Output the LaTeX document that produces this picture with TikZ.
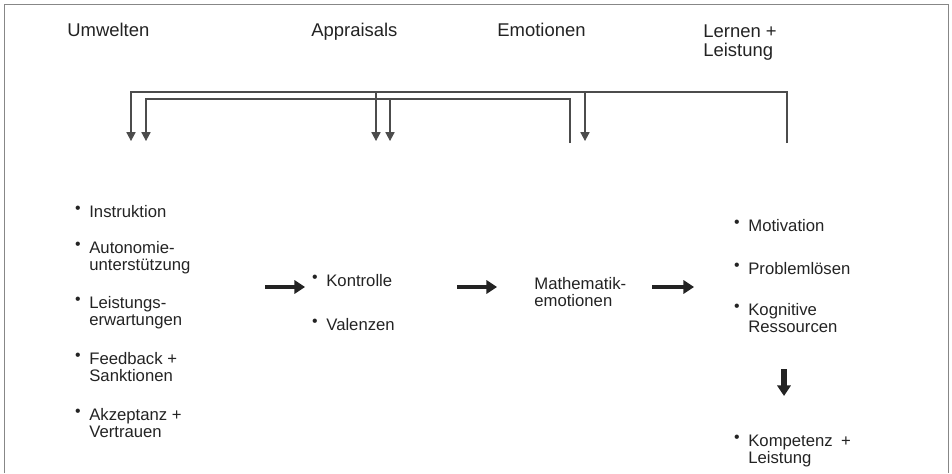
\documentclass[tikz,border=0pt]{standalone}
\usepackage{fontspec}
\setmainfont{Liberation Sans}
\usepackage{graphicx}
\usepackage{tikz}
\usetikzlibrary{arrows.meta,positioning}
\definecolor{inkgray}{RGB}{35,35,35}
\definecolor{framegray}{RGB}{135,135,135}
\newcommand{\bul}{\llap{\raisebox{2.2pt}{\scalebox{0.95}{\textbullet}}\hspace{5pt}}}
\tikzset{
  headtxt/.style={anchor=base west, inner sep=0pt, align=left, font=\fontsize{10.5}{11.3}\selectfont, text=inkgray},
  itemtxt/.style={anchor=base west, inner sep=0pt, align=left, font=\fontsize{9.5}{9.4}\selectfont, text=inkgray},
  flowarrow/.style={-{Triangle[length=6pt,width=7.5pt]}, line width=2.8pt, inkgray},
  fbline/.style={line width=0.6pt, black!70},
  fbarrow/.style={fbline, -{Triangle[length=5pt,width=5.2pt]}},
  framebox/.style={line width=0.5pt, framegray}
}

\begin{document}
\begin{tikzpicture}[x=0.02cm, y=-0.02cm]
\useasboundingbox (0,0) rectangle (952,473);
\draw[framebox] (4,473) -- (4,4) -- (948,4) -- (948,473);

% column heads (base = last line)
\node[headtxt] (umw) at (67,37) {Umwelten};
\node[headtxt] (app) at (311,37) {Appraisals};
\node[headtxt] (emo) at (497,37) {Emotionen};
\node[headtxt] (lrn) at (703,57) {Lernen +\\Leistung};

% Umwelten
\node[itemtxt] (instr) at (89,217) {\bul Instruktion};
\node[itemtxt] (auton) at (89,270) {\bul Autonomie-\\unterstützung};
\node[itemtxt] (lerw) at (89,325) {\bul Leistungs-\\erwartungen};
\node[itemtxt] (feedb) at (89,381) {\bul Feedback +\\Sanktionen};
\node[itemtxt] (akzep) at (89,437) {\bul Akzeptanz +\\Vertrauen};

% Appraisals
\node[itemtxt] (kontr) at (326,286) {\bul Kontrolle};
\node[itemtxt] (valen) at (326,330) {\bul Valenzen};

% Emotionen
\node[itemtxt] (mathe) at (534,306) {Mathematik-\\emotionen};

% Lernen + Leistung
\node[itemtxt] (motiv) at (748,231) {\bul Motivation};
\node[itemtxt] (probl) at (748,274) {\bul Problemlösen};
\node[itemtxt] (kogn) at (748,332) {\bul Kognitive\\Ressourcen};
\node[itemtxt] (komp) at (748,463) {\bul Kompetenz\enspace+\\Leistung};

% feedback loops
\coordinate (lrnfoot) at (787,143);
\coordinate (emofoot) at (570,143);
\coordinate (outer) at (787,92);
\coordinate (inner) at (570,99);
\coordinate (umwin1) at (131,141);
\coordinate (umwin2) at (146,141);
\coordinate (appin1) at (376,141);
\coordinate (appin2) at (390,141);
\coordinate (emoin) at (585,141);
\draw[fbarrow] (lrnfoot) -- (outer) -| (umwin1);
\draw[fbarrow] (appin1 |- outer) -- (appin1);
\draw[fbarrow] (emoin |- outer) -- (emoin);
\draw[fbarrow] (emofoot) -- (inner) -| (umwin2);
\draw[fbarrow] (appin2 |- inner) -- (appin2);

% flow
\coordinate (f1a) at (265,287);
\coordinate (f1b) at (305,287);
\coordinate (f2a) at (457,287);
\coordinate (f2b) at (497,287);
\coordinate (f3a) at (652,287);
\coordinate (f3b) at (694,287);
\coordinate (d1a) at (784,369);
\coordinate (d1b) at (784,396);
\draw[flowarrow] (f1a) -- (f1b);
\draw[flowarrow] (f2a) -- (f2b);
\draw[flowarrow] (f3a) -- (f3b);
\draw[flowarrow, line width=3.4pt] (d1a) -- (d1b);
\end{tikzpicture}
\end{document}
